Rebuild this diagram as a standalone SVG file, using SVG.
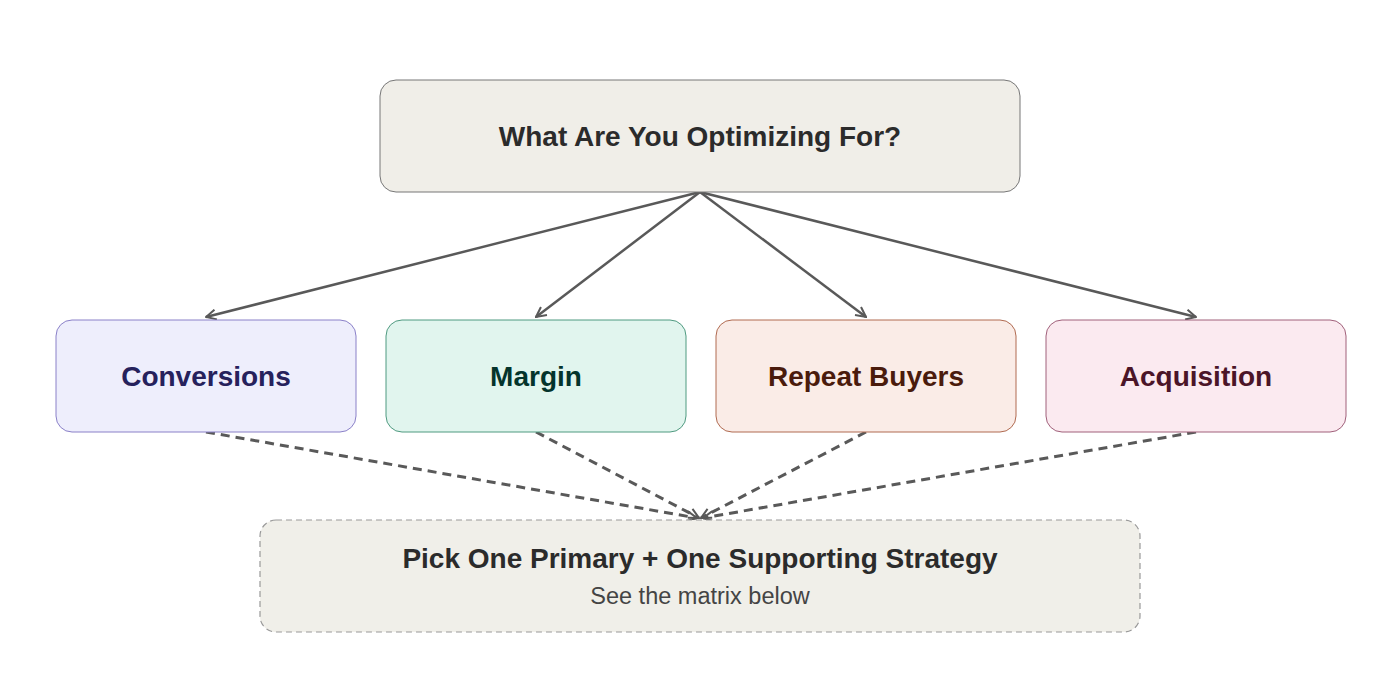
<svg xmlns="http://www.w3.org/2000/svg" width="1400" height="680" viewBox="0 0 1400 680">
<defs>
<style>
.box{stroke-width:1}
.t{font-family:"Liberation Sans",Arial,sans-serif;font-weight:bold;font-size:28px;text-anchor:middle;dominant-baseline:central}
.s{font-family:"Liberation Sans",Arial,sans-serif;font-size:23.5px;text-anchor:middle;dominant-baseline:central;fill:#444}
.e{fill:none;stroke:#595959;stroke-width:2.5}
.d{fill:none;stroke:#595959;stroke-width:3;stroke-dasharray:9 6}
</style>
<marker id="ah" viewBox="0 0 12 12" refX="11" refY="6" markerWidth="12" markerHeight="12" markerUnits="userSpaceOnUse" orient="auto">
<path d="M1,1 L11,6 L1,11" fill="none" stroke="#595959" stroke-width="2"/>
</marker>
</defs>
<rect width="1400" height="680" fill="#fff"/>
<g id="connectors">
<line class="e" x1="700" y1="192" x2="206" y2="317" marker-end="url(#ah)"/>
<line class="e" x1="700" y1="192" x2="536" y2="317" marker-end="url(#ah)"/>
<line class="e" x1="700" y1="192" x2="866" y2="317" marker-end="url(#ah)"/>
<line class="e" x1="700" y1="192" x2="1196" y2="317" marker-end="url(#ah)"/>
<line class="d" x1="206" y1="432" x2="697" y2="518" marker-end="url(#ah)"/>
<line class="d" x1="536" y1="432" x2="699" y2="518" marker-end="url(#ah)"/>
<line class="d" x1="866" y1="432" x2="701" y2="518" marker-end="url(#ah)"/>
<line class="d" x1="1196" y1="432" x2="703" y2="518" marker-end="url(#ah)"/>
</g>
<g id="top">
<rect class="box" x="380" y="80" width="640" height="112" rx="16" fill="#f0eee8" stroke="#777"/>
<text class="t" x="700" y="136" fill="#2b2b2b">What Are You Optimizing For?</text>
</g>
<g id="conversions">
<rect class="box" x="56" y="320" width="300" height="112" rx="16" fill="#eeeefc" stroke="#8a80c8"/>
<text class="t" x="206" y="376" fill="#26215c">Conversions</text>
</g>
<g id="margin">
<rect class="box" x="386" y="320" width="300" height="112" rx="16" fill="#e1f5ee" stroke="#4f9a80"/>
<text class="t" x="536" y="376" fill="#04342c">Margin</text>
</g>
<g id="repeat">
<rect class="box" x="716" y="320" width="300" height="112" rx="16" fill="#faece7" stroke="#b06a50"/>
<text class="t" x="866" y="376" fill="#4a1b0c">Repeat Buyers</text>
</g>
<g id="acquisition">
<rect class="box" x="1046" y="320" width="300" height="112" rx="16" fill="#fbeaf0" stroke="#a0607a"/>
<text class="t" x="1196" y="376" fill="#4b1528">Acquisition</text>
</g>
<g id="pick">
<rect x="260" y="520" width="880" height="112" rx="16" fill="#f0efe9" stroke="#999" stroke-width="1.2" stroke-dasharray="6 4"/>
<text class="t" x="700" y="558" fill="#2b2b2b">Pick One Primary + One Supporting Strategy</text>
<text class="s" x="700" y="596">See the matrix below</text>
</g>
</svg>
